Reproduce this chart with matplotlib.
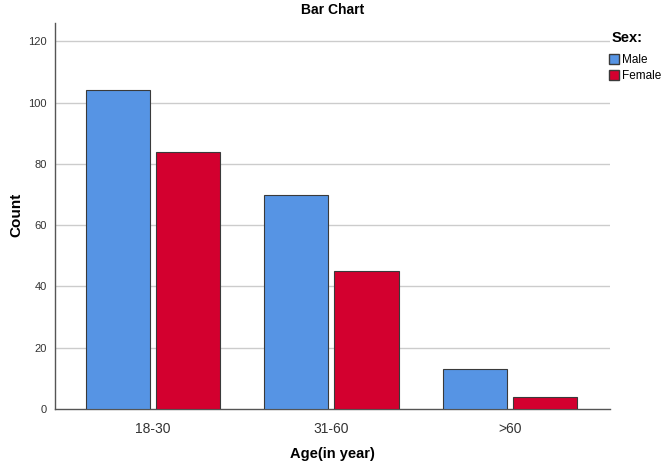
import matplotlib
matplotlib.use("Agg")
import matplotlib.pyplot as plt
import numpy as np
from matplotlib.patches import Patch

plt.rcParams['font.family'] = ['Liberation Sans', 'DejaVu Sans']

categories = ["18-30", "31-60", ">60"]
male = [104, 70, 13]
female = [84, 45, 4]
yticks = [0, 20, 40, 60, 80, 100, 120]

fig = plt.figure(figsize=(6.7, 4.67), dpi=100)
ax = fig.add_axes([0.082, 0.124, 0.828, 0.827])

x = np.arange(len(categories))
w = 0.36
off = 0.197
ax.bar(x - off, male, width=w, color="#5694E4", edgecolor="#3a3a3a", linewidth=0.8, zorder=3, label="Male")
ax.bar(x + off, female, width=w, color="#D3002F", edgecolor="#3a3a3a", linewidth=0.8, zorder=3, label="Female")

ax.set_xlim(-0.55, 2.56)
ax.set_ylim(0, 126)
ax.set_yticks(yticks)
ax.set_yticklabels([str(v) for v in yticks], fontsize=8, color="#333333")
ax.set_xticks(x)
ax.set_xticklabels(categories, fontsize=10, color="#333333")
ax.tick_params(axis='y', length=0, pad=6)
ax.tick_params(axis='x', length=0, pad=9)
for v in yticks[1:]:
    ax.axhline(v, color="#cccccc", linewidth=1, zorder=1)
for s in ["top", "right"]:
    ax.spines[s].set_visible(False)
for s in ["left", "bottom"]:
    ax.spines[s].set_color("#555555")
    ax.spines[s].set_linewidth(1)

fig.text(0.024, 0.54, "Count", rotation=90, ha="center", va="center", fontsize=11, fontweight="bold")
ax.set_xlabel("Age(in year)", fontsize=10.5, fontweight="bold", labelpad=8)
fig.text(0.497, 0.978, "Bar Chart", ha="center", va="center", fontsize=10, fontweight="bold")

fig.text(0.913, 0.918, "Sex:", ha="left", va="center", fontsize=10.5, fontweight="bold")
handles = [Patch(facecolor="#5694E4", edgecolor="#3a3a3a", label="Male"),
           Patch(facecolor="#D3002F", edgecolor="#3a3a3a", label="Female")]
fig.legend(handles=handles, loc="upper left", bbox_to_anchor=(0.905, 0.89), frameon=False,
           fontsize=8.5, handlelength=0.9, handleheight=0.9, handletextpad=0.2, labelspacing=0.35,
           borderpad=0.2, borderaxespad=0)

fig.savefig("out.png", dpi=100)
